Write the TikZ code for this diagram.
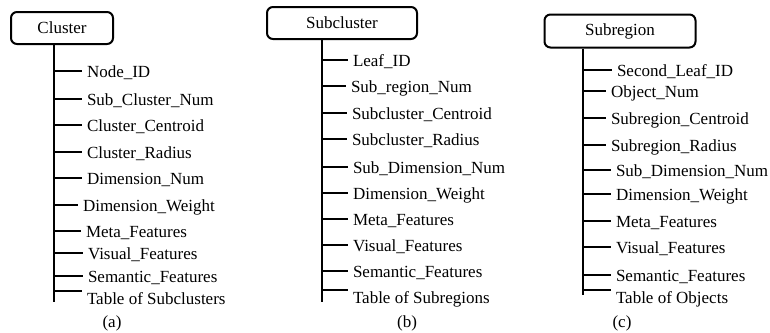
\documentclass[tikz,border=0pt]{standalone}
\usepackage{fontspec}
\setmainfont{Liberation Serif}

\tikzset{
    box/.style={draw, rounded corners=6pt, inner sep=0pt},
    field/.style={anchor=west, inner xsep=4pt, inner ysep=0pt, text height=12pt, text depth=0pt}
}

\begin{document}
\begin{tikzpicture}[x=1pt, y=-1pt, line width=2pt, font=\rmfamily\fontsize{17}{20}\selectfont]
    \useasboundingbox (0,0) rectangle (770,332);

    % (a) cluster
    \node[box, minimum width=102pt, minimum height=32pt] (cluster) at (62,28) {Cluster};
    \coordinate (cend) at (54,302);
    \draw (cluster.south -| cend) -- (cend);
    \foreach \x/\y/\t/\a [count=\i] in {82/71/Node\_ID/west, 82/99/Sub\_Cluster\_Num/west,
        82/125/Cluster\_Centroid/west, 82/152/Cluster\_Radius/west, 82/178/Dimension\_Num/west,
        78/205/Dimension\_Weight/west, 81/231/Meta\_Features/west, 83/253/Visual\_Features/west,
        83/276/Semantic\_Features/west, 82/298/Table of Subclusters/north west} {
        \node[field] (c\i) at (\x,\y) {\t};
        \draw (cend |- c\i.\a) -- (c\i.\a);
    }
    \node (capa) at (112,323) {(a)};

    % (b) subcluster
    \node[box, minimum width=150pt, minimum height=32pt] (subcluster) at (342,23) {Subcluster\hspace{12pt}};
    \coordinate (scend) at (322,302);
    \draw (subcluster.south -| scend) -- (scend);
    \foreach \x/\y/\t/\a [count=\i] in {348/60/Leaf\_ID/west, 346/86/Sub\_region\_Num/west,
        347/113/Subcluster\_Centroid/west, 347/139/Subcluster\_Radius/west, 348/167/Sub\_Dimension\_Num/west,
        348/193/Dimension\_Weight/west, 348/219/Meta\_Features/west, 348/245/Visual\_Features/west,
        348/271/Semantic\_Features/west, 348/297/Table of Subregions/north west} {
        \node[field] (sc\i) at (\x,\y) {\t};
        \draw (scend |- sc\i.\a) -- (sc\i.\a);
    }
    \node (capb) at (407,323) {(b)};

    % (c) subregion
    \node[box, minimum width=151pt, minimum height=33pt] (subregion) at (620,31) {Subregion\hspace{14pt}};
    \coordinate (srend) at (583,295);
    \draw (subregion.south -| srend) -- (srend);
    \foreach \x/\y/\t/\a [count=\i] in {612/70/Second\_Leaf\_ID/west, 606/91/Object\_Num/west,
        606/118/Subregion\_Centroid/west, 606/145/Subregion\_Radius/west, 611/170/Sub\_Dimension\_Num/west,
        611/194/Dimension\_Weight/west, 611/221/Meta\_Features/west, 611/247/Visual\_Features/west,
        611/275/Semantic\_Features/west, 611/297/Table of Objects/north west} {
        \node[field] (sr\i) at (\x,\y) {\t};
        \draw (srend |- sr\i.\a) -- (sr\i.\a);
    }
    \node (capc) at (622,323) {(c)};

\end{tikzpicture}
\end{document}
